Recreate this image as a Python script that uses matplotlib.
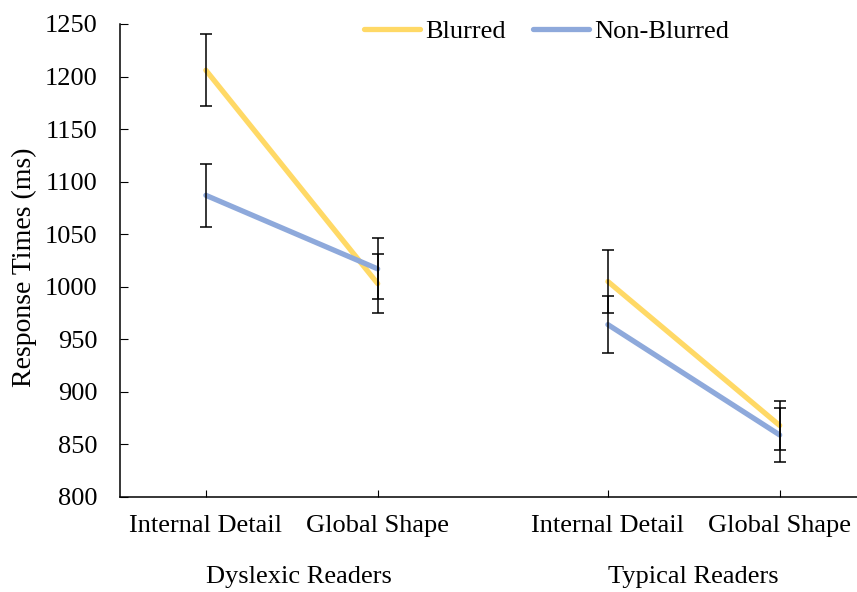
import matplotlib.pyplot as plt

plt.rcParams['font.family'] = ['Liberation Serif', 'DejaVu Serif']

# Data
conditions = ['Internal Detail', 'Global Shape', 'Internal Detail', 'Global Shape']
groups = ['Dyslexic Readers', 'Typical Readers']
blurred = [1206, 1003, 1005, 868]
blurred_err = [34, 28, 29.5, 23]
non_blurred = [1087, 1017, 964, 859]
non_blurred_err = [30, 29, 27, 26]

# category positions (gap between the two reader groups)
xpos = [0, 1, 2.34, 3.34]

fig = plt.figure(figsize=(8.57, 5.92), dpi=100)
ax = fig.add_axes([0.14, 0.1605, 0.86, 0.799])

yellow = '#FFD966'
blue = '#8EA9DB'

for i in range(2):
    sl = slice(2 * i, 2 * i + 2)
    ax.plot(xpos[sl], blurred[sl], color=yellow, lw=3.8, solid_capstyle='round',
            label='Blurred' if i == 0 else None, zorder=2)
    ax.plot(xpos[sl], non_blurred[sl], color=blue, lw=3.8, solid_capstyle='round',
            label='Non-Blurred' if i == 0 else None, zorder=2)

ax.errorbar(xpos, blurred, yerr=blurred_err, fmt='none', ecolor='black',
            elinewidth=1.1, capsize=4.5, capthick=1.1, zorder=3)
ax.errorbar(xpos, non_blurred, yerr=non_blurred_err, fmt='none', ecolor='black',
            elinewidth=1.1, capsize=4.5, capthick=1.1, zorder=3)

ax.set_xlim(-0.5, 3.79)
ax.set_ylim(800, 1250)
ax.set_yticks(range(800, 1251, 50))
ax.set_xticks(xpos)
ax.set_xticklabels(conditions)
ax.tick_params(axis='x', direction='in', length=5, labelsize=19, pad=13)
ax.tick_params(axis='y', direction='in', length=6, labelsize=19, pad=16)

for s in ['top', 'right']:
    ax.spines[s].set_visible(False)
for s in ['left', 'bottom']:
    ax.spines[s].set_linewidth(1.1)

ax.set_ylabel('Response Times (ms)', fontsize=20)
ax.yaxis.set_label_coords(-0.112, 0.486)

# group labels under each pair of conditions
for i, g in enumerate(groups):
    xc = (xpos[2 * i] + xpos[2 * i + 1]) / 2
    ax.text(xc + (0.04 if i == 0 else 0), -0.17, g, fontsize=19,
            ha='center', va='center', transform=ax.get_xaxis_transform())

ax.legend(loc='center', bbox_to_anchor=(0.579, 0.985), ncol=2, frameon=False,
          fontsize=19, handlelength=2.1, handletextpad=0.2, columnspacing=1.05,
          borderpad=0, borderaxespad=0)

fig.savefig('out.png', dpi=100)
